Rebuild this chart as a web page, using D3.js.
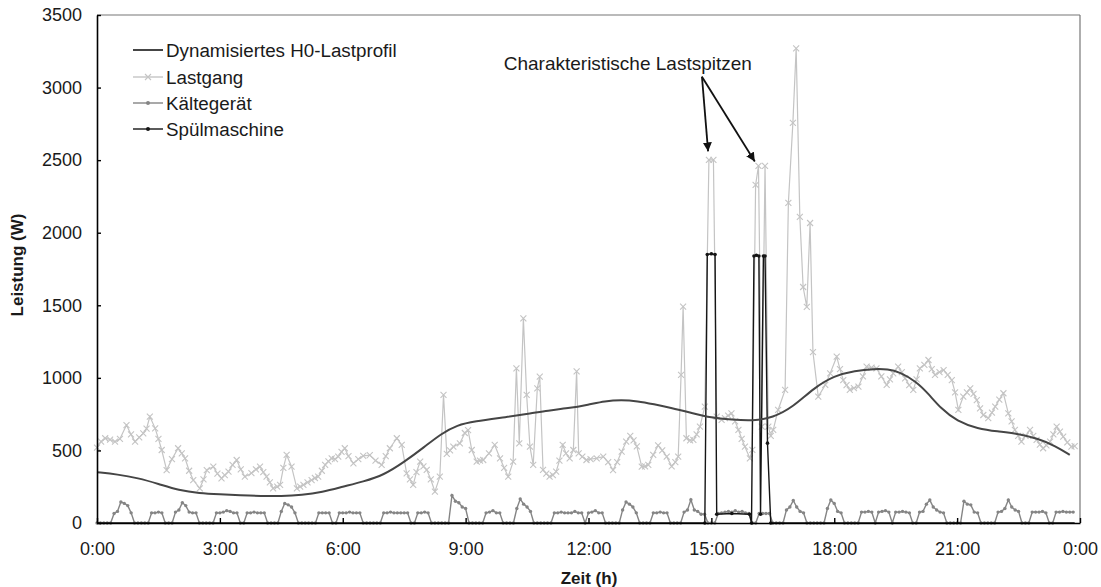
<!DOCTYPE html>
<html><head><meta charset="utf-8">
<script src="https://cdn.jsdelivr.net/npm/d3@7"></script>
<style>
body{margin:0;background:#fff}
svg{display:block}
text{font-family:"Liberation Sans",Arial,Helvetica,sans-serif;fill:#1a1a1a}
</style>
</head><body>
<svg id="chart" width="1101" height="587"></svg>
<script>
// ---------- data ----------
const xTickValues = [0, 3, 6, 9, 12, 15, 18, 21, 24];
const xTickLabels = ["0:00", "3:00", "6:00", "9:00", "12:00", "15:00", "18:00", "21:00", "0:00"];
const yTickValues = [0, 500, 1000, 1500, 2000, 2500, 3000, 3500];
const seriesNames = ["Dynamisiertes H0-Lastprofil", "Lastgang", "Kältegerät", "Spülmaschine"];
const xTitle = "Zeit (h)";
const yTitle = "Leistung (W)";
const annotationText = "Charakteristische Lastspitzen";
const annotationPos = [12.96, 3120];
const arrowStart = [14.77, 3075];
const arrowTargets = [[14.92, 2560], [16.06, 2490]];

// Dynamisiertes H0-Lastprofil (hour, W)
const h0Hours = [0, 0.5, 1, 1.5, 2, 2.5, 3, 3.5, 4, 4.5, 5, 5.5, 6, 6.5, 7, 7.5, 8, 8.4, 8.8, 9.2, 10, 10.6, 11, 11.5, 12, 12.4, 12.8, 13.2, 13.6, 14, 14.5, 15, 15.5, 16, 16.5, 17, 17.5, 18, 18.5, 19, 19.3, 19.6, 20, 20.3, 20.6, 21, 21.5, 22, 22.4, 23, 23.4, 23.75];
const h0Values = [350, 335, 310, 270, 225, 205, 198, 192, 186, 185, 192, 212, 250, 285, 330, 420, 525, 615, 675, 700, 730, 755, 775, 790, 815, 840, 848, 840, 818, 795, 760, 724, 712, 703, 725, 800, 930, 1015, 1050, 1062, 1060, 1040, 975, 890, 790, 700, 650, 630, 620, 580, 530, 470];

// Lastgang (hour, W)
const lastgangHours = [0.00,0.10,0.20,0.32,0.44,0.56,0.72,0.83,0.93,1.03,1.13,1.21,1.29,1.42,1.50,1.58,1.70,1.83,1.98,2.07,2.15,2.25,2.35,2.51,2.60,2.68,2.84,2.94,3.04,3.12,3.21,3.31,3.41,3.51,3.61,3.77,3.88,3.98,4.06,4.14,4.22,4.30,4.40,4.47,4.55,4.63,4.75,4.88,4.96,5.04,5.14,5.24,5.32,5.40,5.49,5.57,5.65,5.73,5.81,5.89,5.97,6.05,6.14,6.26,6.38,6.50,6.66,6.80,6.95,7.05,7.15,7.32,7.44,7.56,7.64,7.72,7.80,7.89,7.97,8.05,8.15,8.25,8.37,8.46,8.54,8.62,8.70,8.86,8.98,9.06,9.15,9.27,9.35,9.43,9.57,9.71,9.84,9.94,10.04,10.16,10.24,10.31,10.41,10.49,10.57,10.65,10.75,10.81,10.89,10.97,11.05,11.13,11.21,11.29,11.37,11.45,11.54,11.63,11.71,11.76,11.85,11.95,12.05,12.20,12.36,12.48,12.60,12.70,12.81,12.92,13.02,13.10,13.18,13.30,13.38,13.46,13.58,13.70,13.80,13.91,14.03,14.12,14.19,14.26,14.31,14.39,14.48,14.56,14.64,14.72,14.84,14.94,15.05,15.13,15.25,15.33,15.41,15.49,15.58,15.66,15.74,15.82,15.94,16.00,16.08,16.15,16.23,16.31,16.39,16.45,16.51,16.63,16.80,16.88,16.99,17.07,17.16,17.24,17.33,17.41,17.48,17.61,17.78,17.90,18.06,18.14,18.22,18.30,18.38,18.48,18.59,18.70,18.79,18.91,19.03,19.15,19.28,19.36,19.44,19.56,19.65,19.73,19.83,19.93,20.01,20.09,20.20,20.30,20.38,20.46,20.57,20.67,20.77,20.87,20.95,21.03,21.15,21.24,21.32,21.40,21.48,21.56,21.64,21.76,21.85,21.93,22.03,22.13,22.25,22.33,22.41,22.49,22.57,22.67,22.78,22.86,22.94,23.02,23.10,23.18,23.27,23.35,23.43,23.51,23.59,23.69,23.79,23.87];
const lastgangValues = [520,560,584,575,560,580,675,610,560,590,618,650,733,652,580,503,365,440,515,480,446,360,296,239,300,365,388,340,308,330,354,400,434,370,319,343,370,388,350,319,280,239,250,262,380,469,388,239,250,262,280,296,310,319,360,400,425,446,440,457,490,515,460,411,440,462,468,430,400,460,515,584,538,342,300,262,350,423,390,366,300,216,319,882,477,500,526,549,620,640,503,423,430,434,480,538,446,380,319,423,1066,549,1410,882,526,400,928,1008,366,340,319,330,354,430,538,480,446,503,1045,480,457,434,440,446,457,420,365,420,492,560,600,570,528,388,390,400,470,535,500,457,390,420,457,1020,1491,584,570,573,610,664,802,2502,2502,733,710,722,740,756,700,642,580,526,446,504,2329,2460,664,2460,664,600,642,779,917,2205,2757,3270,2109,1626,1489,2067,1178,871,951,1031,1146,1060,985,950,917,930,940,1010,1077,1070,1066,1010,951,990,1031,1077,1040,997,950,917,990,1066,1090,1123,1060,1020,1040,1054,1020,985,900,779,871,900,928,890,847,790,744,722,760,802,850,894,756,700,641,600,560,600,641,600,572,540,515,535,560,610,664,630,595,555,526,530];

// Kältegerät, 5-minute samples starting 0:00 (one row per hour)
const kaelteValues = [
  0,0,0,0,0,65,80,145,135,120,70,0,
  0,0,0,0,70,70,75,70,0,0,0,75,
  90,140,120,75,70,70,0,0,0,0,0,70,
  70,75,85,80,70,70,0,0,70,70,75,70,
  70,70,0,0,0,0,80,135,125,110,70,0,
  0,0,0,0,0,70,70,70,70,0,0,70,
  70,70,75,70,70,70,0,0,0,0,0,0,
  70,70,75,70,70,70,70,70,0,0,70,70,
  75,70,0,0,0,0,0,0,190,150,140,110,
  100,0,0,0,0,0,70,75,85,70,70,0,
  0,0,0,100,165,130,110,80,0,0,0,0,
  0,0,70,70,75,70,70,70,80,70,70,0,
  70,75,85,70,70,0,0,0,0,0,90,145,
  130,110,70,0,0,0,0,70,70,75,70,70,
  0,0,0,0,75,90,160,90,80,60,60,0,
  0,0,65,70,75,80,75,85,75,80,70,65,
  0,0,65,65,65,65,0,0,0,0,90,110,
  155,110,80,70,0,0,0,0,0,0,100,158,
  135,80,70,0,0,0,0,0,75,75,80,75,
  0,75,80,85,75,0,75,75,80,75,70,0,
  0,75,80,130,158,110,90,75,70,0,0,0,
  0,0,150,130,125,75,70,0,0,0,0,0,
  75,80,100,158,110,90,80,0,0,0,75,75,
  75,80,70,0,0,75,75,80,75,75,75
];

// Spülmaschine (hour, W)
const spuelHours = [0, 14.84, 14.90, 15.00, 15.09, 15.13, 15.50, 15.93, 15.98, 16.04, 16.10, 16.16, 16.20, 16.27, 16.31, 16.37, 16.45, 23.87];
const spuelValues = [0, 0, 1850, 1855, 1850, 60, 65, 60, 0, 1840, 1845, 1840, 60, 1840, 1840, 550, 0, 0];

// ---------- chart ----------
const svg = d3.select("#chart");
const x = d3.scaleLinear().domain([0, 24]).range([97, 1080]);
const y = d3.scaleLinear().domain([0, 3500]).range([523, 15]);

const h0 = h0Hours.map((h, i) => [h, h0Values[i]]);
const lastgang = lastgangHours.map((h, i) => [h, lastgangValues[i]]);
const kaelte = kaelteValues.map((v, i) => [i / 12, v]);
const spuel = spuelHours.map((h, i) => [h, spuelValues[i]]);

const line = d3.line().x(d => x(d[0])).y(d => y(d[1]));
const smooth = d3.line().x(d => x(d[0])).y(d => y(d[1])).curve(d3.curveBasis);

const colLast = "#c4c4c4", colKaelte = "#858585", colH0 = "#454545", colSpuel = "#151515";

// frame (top & right)
svg.append("line").attr("x1", x(0)).attr("x2", x(24)).attr("y1", y(3500)).attr("y2", y(3500))
  .attr("stroke", "#777").attr("stroke-width", 1.2);
svg.append("line").attr("x1", x(24)).attr("x2", x(24)).attr("y1", y(3500)).attr("y2", y(0))
  .attr("stroke", "#777").attr("stroke-width", 1.2);

// Lastgang
svg.append("path").datum(lastgang).attr("d", line).attr("fill", "none")
  .attr("stroke", colLast).attr("stroke-width", 1.2);
const xm = 3;
svg.append("g").selectAll("path").data(lastgang).join("path")
  .attr("d", d => `M${x(d[0]) - xm},${y(d[1]) - xm}L${x(d[0]) + xm},${y(d[1]) + xm}M${x(d[0]) - xm},${y(d[1]) + xm}L${x(d[0]) + xm},${y(d[1]) - xm}`)
  .attr("stroke", colLast).attr("stroke-width", 1.1).attr("fill", "none");

// Kältegerät
svg.append("path").datum(kaelte).attr("d", line).attr("fill", "none")
  .attr("stroke", colKaelte).attr("stroke-width", 1.4);
svg.append("g").selectAll("circle").data(kaelte).join("circle")
  .attr("cx", d => x(d[0])).attr("cy", d => y(d[1])).attr("r", 1.7).attr("fill", colKaelte);

// Spülmaschine
svg.append("path").datum(spuel).attr("d", line).attr("fill", "none")
  .attr("stroke", colSpuel).attr("stroke-width", 1.4);
svg.append("g").selectAll("circle").data(spuel.slice(1, -1)).join("circle")
  .attr("cx", d => x(d[0])).attr("cy", d => y(d[1])).attr("r", 1.8).attr("fill", colSpuel);

// H0 profile
svg.append("path").datum(h0).attr("d", smooth).attr("fill", "none")
  .attr("stroke", colH0).attr("stroke-width", 2);

// axes
const yAxis = d3.axisLeft(y).tickValues(yTickValues).tickFormat(d3.format("d"))
  .tickSizeInner(-4).tickSizeOuter(0).tickPadding(15);
const gy = svg.append("g").attr("transform", `translate(${x(0)},0)`).call(yAxis);
const xAxis = d3.axisBottom(x).tickValues(xTickValues).tickFormat((d, i) => xTickLabels[i])
  .tickSizeInner(-5).tickSizeOuter(0).tickPadding(19);
const gx = svg.append("g").attr("transform", `translate(0,${y(0)})`).call(xAxis);
[gx, gy].forEach(g => {
  g.select(".domain").attr("stroke", "#000").attr("stroke-width", 1.6);
  g.selectAll(".tick line").attr("stroke", "#000").attr("stroke-width", 1.4);
  g.selectAll(".tick text").attr("font-size", 18).attr("font-family", "'Liberation Sans',Arial,sans-serif").attr("fill", "#1a1a1a");
});

// axis titles
svg.append("text").attr("x", 589).attr("y", 584).attr("text-anchor", "middle")
  .attr("font-size", 17).attr("font-weight", "bold").text(xTitle);
svg.append("text").attr("transform", "translate(23,265) rotate(-90)").attr("text-anchor", "middle")
  .attr("font-size", 17).attr("font-weight", "bold").text(yTitle);

// legend
const legendY = [50, 77, 103, 129];
const lg = svg.append("g");
seriesNames.forEach((name, i) => {
  const yy = legendY[i];
  const col = [colH0, colLast, colKaelte, colSpuel][i];
  lg.append("line").attr("x1", 133).attr("x2", 163).attr("y1", yy).attr("y2", yy)
    .attr("stroke", col).attr("stroke-width", i === 0 ? 2 : 1.4);
  if (i === 1) {
    lg.append("path").attr("d", `M${148 - xm},${yy - xm}L${148 + xm},${yy + xm}M${148 - xm},${yy + xm}L${148 + xm},${yy - xm}`)
      .attr("stroke", col).attr("stroke-width", 1.1);
  } else if (i > 1) {
    lg.append("circle").attr("cx", 148).attr("cy", yy).attr("r", 2).attr("fill", col);
  }
  lg.append("text").attr("x", 166).attr("y", yy).attr("dy", "0.35em").attr("font-size", 18.8).text(name);
});

// annotation
svg.append("defs").append("marker").attr("id", "arr").attr("viewBox", "0 0 10 10")
  .attr("refX", 10).attr("refY", 5).attr("markerWidth", 5).attr("markerHeight", 5).attr("orient", "auto")
  .append("path").attr("d", "M0,0L10,5L0,10Z").attr("fill", "#111");
svg.append("text").attr("x", x(annotationPos[0])).attr("y", y(annotationPos[1])).attr("text-anchor", "middle")
  .attr("font-size", 19).text(annotationText);
arrowTargets.forEach(t => {
  svg.append("line").attr("x1", x(arrowStart[0])).attr("y1", y(arrowStart[1]))
    .attr("x2", x(t[0])).attr("y2", y(t[1])).attr("stroke", "#111").attr("stroke-width", 1.8)
    .attr("marker-end", "url(#arr)");
});
</script>
</body></html>
